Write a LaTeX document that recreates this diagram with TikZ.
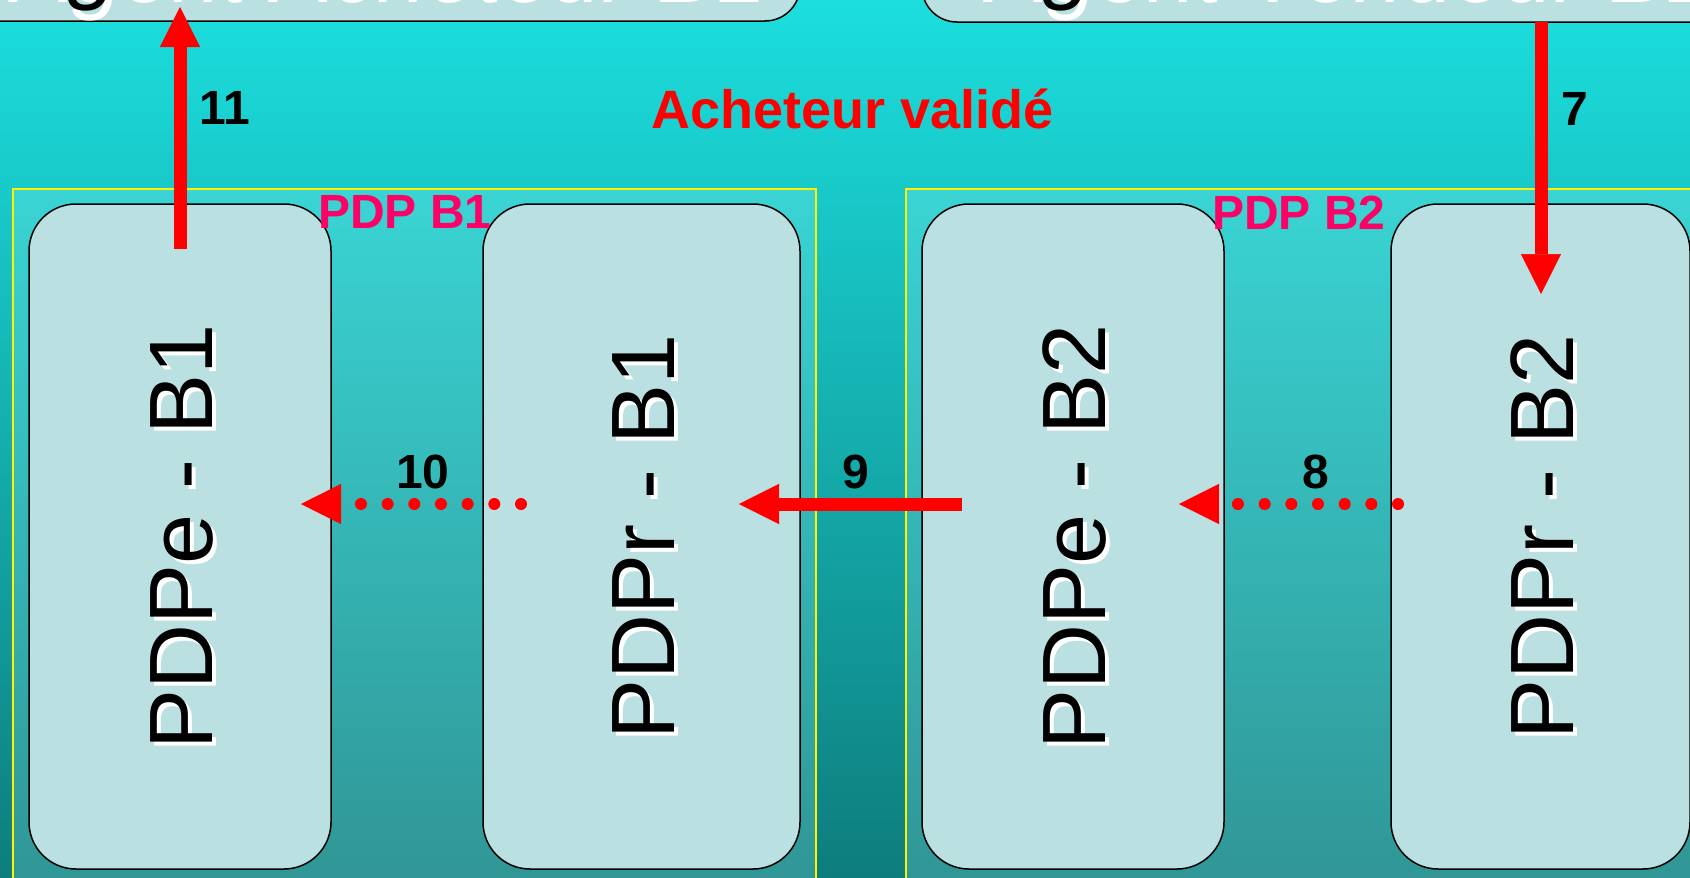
\documentclass[tikz,border=0pt]{standalone}
\usepackage{fontspec}
\setmainfont{Liberation Sans}
\usetikzlibrary{arrows.meta}
\definecolor{bgtop}{RGB}{28,222,222}
\definecolor{bgbot}{RGB}{14,125,125}
\definecolor{frtop}{RGB}{58,212,212}
\definecolor{frbot}{RGB}{48,148,148}
\definecolor{boxfill}{RGB}{186,224,226}
\definecolor{pdppink}{RGB}{255,0,102}
\newcommand\shtxt[3]{\rlap{\kern#1\raisebox{#2}{\color{white}#3}}#3}
\newcommand\boxtxt[1]{\raisebox{-4pt}[\height][\depth]{\shtxt{-4pt}{-4pt}{#1}}}
\tikzset{
  topbox/.style={draw=black, line width=1.5pt, fill=boxfill, rounded corners=35pt, inner sep=0pt},
  toptext/.style={inner sep=0pt, text=black, font=\fontsize{90}{100}\selectfont\itshape},
  framebox/.style={draw=yellow, line width=1.5pt, top color=frtop, bottom color=frbot},
  pdpbox/.style={draw=black, line width=1.5pt, fill=boxfill, rounded corners=47pt, rotate=90,
    minimum width=665pt, inner sep=0pt, text=black, font=\fontsize{90}{100}\selectfont},
  pdplabel/.style={inner sep=0pt, text=pdppink, font=\fontsize{48}{56}\selectfont\bfseries},
  titlelabel/.style={inner sep=0pt, text=red, font=\fontsize{54}{60}\selectfont\bfseries},
  numlabel/.style={inner sep=0pt, text=black, font=\fontsize{48}{56}\selectfont\bfseries},
  arr/.style={draw=red, line width=13pt, -{Triangle[length=40pt,width=40pt,line width=0.5pt]}},
  dotarr/.style={draw=red, line width=12pt, line cap=round, dash pattern=on 0pt off 26.67pt,
    -{Triangle[length=40pt,width=40pt,line width=0.5pt]}}
}
\begin{document}
\begin{tikzpicture}[x=1pt,y=-1pt]
\useasboundingbox (0,0) rectangle (1690,878);
\clip (0,0) rectangle (1690,878);
\shade[top color=bgtop, bottom color=bgbot] (0,0) rectangle (1690,878);
% top boxes (cut off by the picture edge)
\node[topbox, minimum width=880pt, minimum height=141pt] (topA) at (360,-49.5) {};
\node[topbox, minimum width=860pt, minimum height=142pt] (topV) at (1352,-49) {};
\node[toptext, anchor=base west] (tA) at (8,-8) {\shtxt{4pt}{-10pt}{Agent Acheteur B1}};
\node[toptext, anchor=base west] (tV) at (983,-8) {\shtxt{4pt}{-10pt}{Agent Vendeur B2}};
% frames
\path[framebox] (13,189) rectangle (816,900);
\path[framebox] (906,189) rectangle (1720,900);
% boxes
\node[pdpbox, minimum height=302pt] (pdpeB1) at (180,536.5) {\boxtxt{PDPe - B1}};
\node[pdpbox, minimum height=317pt] (pdprB1) at (641.5,536.5) {\boxtxt{PDPr - B1}};
\node[pdpbox, minimum height=302pt] (pdpeB2) at (1073,536.5) {\boxtxt{PDPe - B2}};
\node[pdpbox, minimum height=299pt] (pdprB2) at (1540.5,536.5) {\boxtxt{PDPr - B2}};
% labels
\node[pdplabel, anchor=base] (lB1) at (405,228) {PDP B1};
\node[pdplabel, anchor=base] (lB2) at (1299,229) {PDP B2};
\node[titlelabel, anchor=base] (tval) at (853,128) {Acheteur validé};
% connectors
\coordinate (a11s) at (180,249);  \coordinate (a11e) at (180,7);
\coordinate (a7s) at (1541,22);   \coordinate (a7e) at (1541,294);
\coordinate (a9s) at (962,504);   \coordinate (a9e) at (739,504);
\coordinate (a10s) at (521,504);  \coordinate (a10e) at (301,504);
\coordinate (a8s) at (1398,504);  \coordinate (a8e) at (1179,504);
\draw[arr] (a11s) -- (a11e);
\draw[arr] (a7s) -- (a7e);
\draw[arr] (a9s) -- (a9e);
\draw[dotarr] (a10s) -- (a10e);
\draw[dotarr] (a8s) -- (a8e);
% step numbers
\node[numlabel, anchor=base] (n11) at (225,124) {11};
\node[numlabel, anchor=base] (n7) at (1575,125) {7};
\node[numlabel, anchor=base] (n10) at (423,488) {10};
\node[numlabel, anchor=base] (n9) at (856,488) {9};
\node[numlabel, anchor=base] (n8) at (1316,488) {8};
\end{tikzpicture}
\end{document}
